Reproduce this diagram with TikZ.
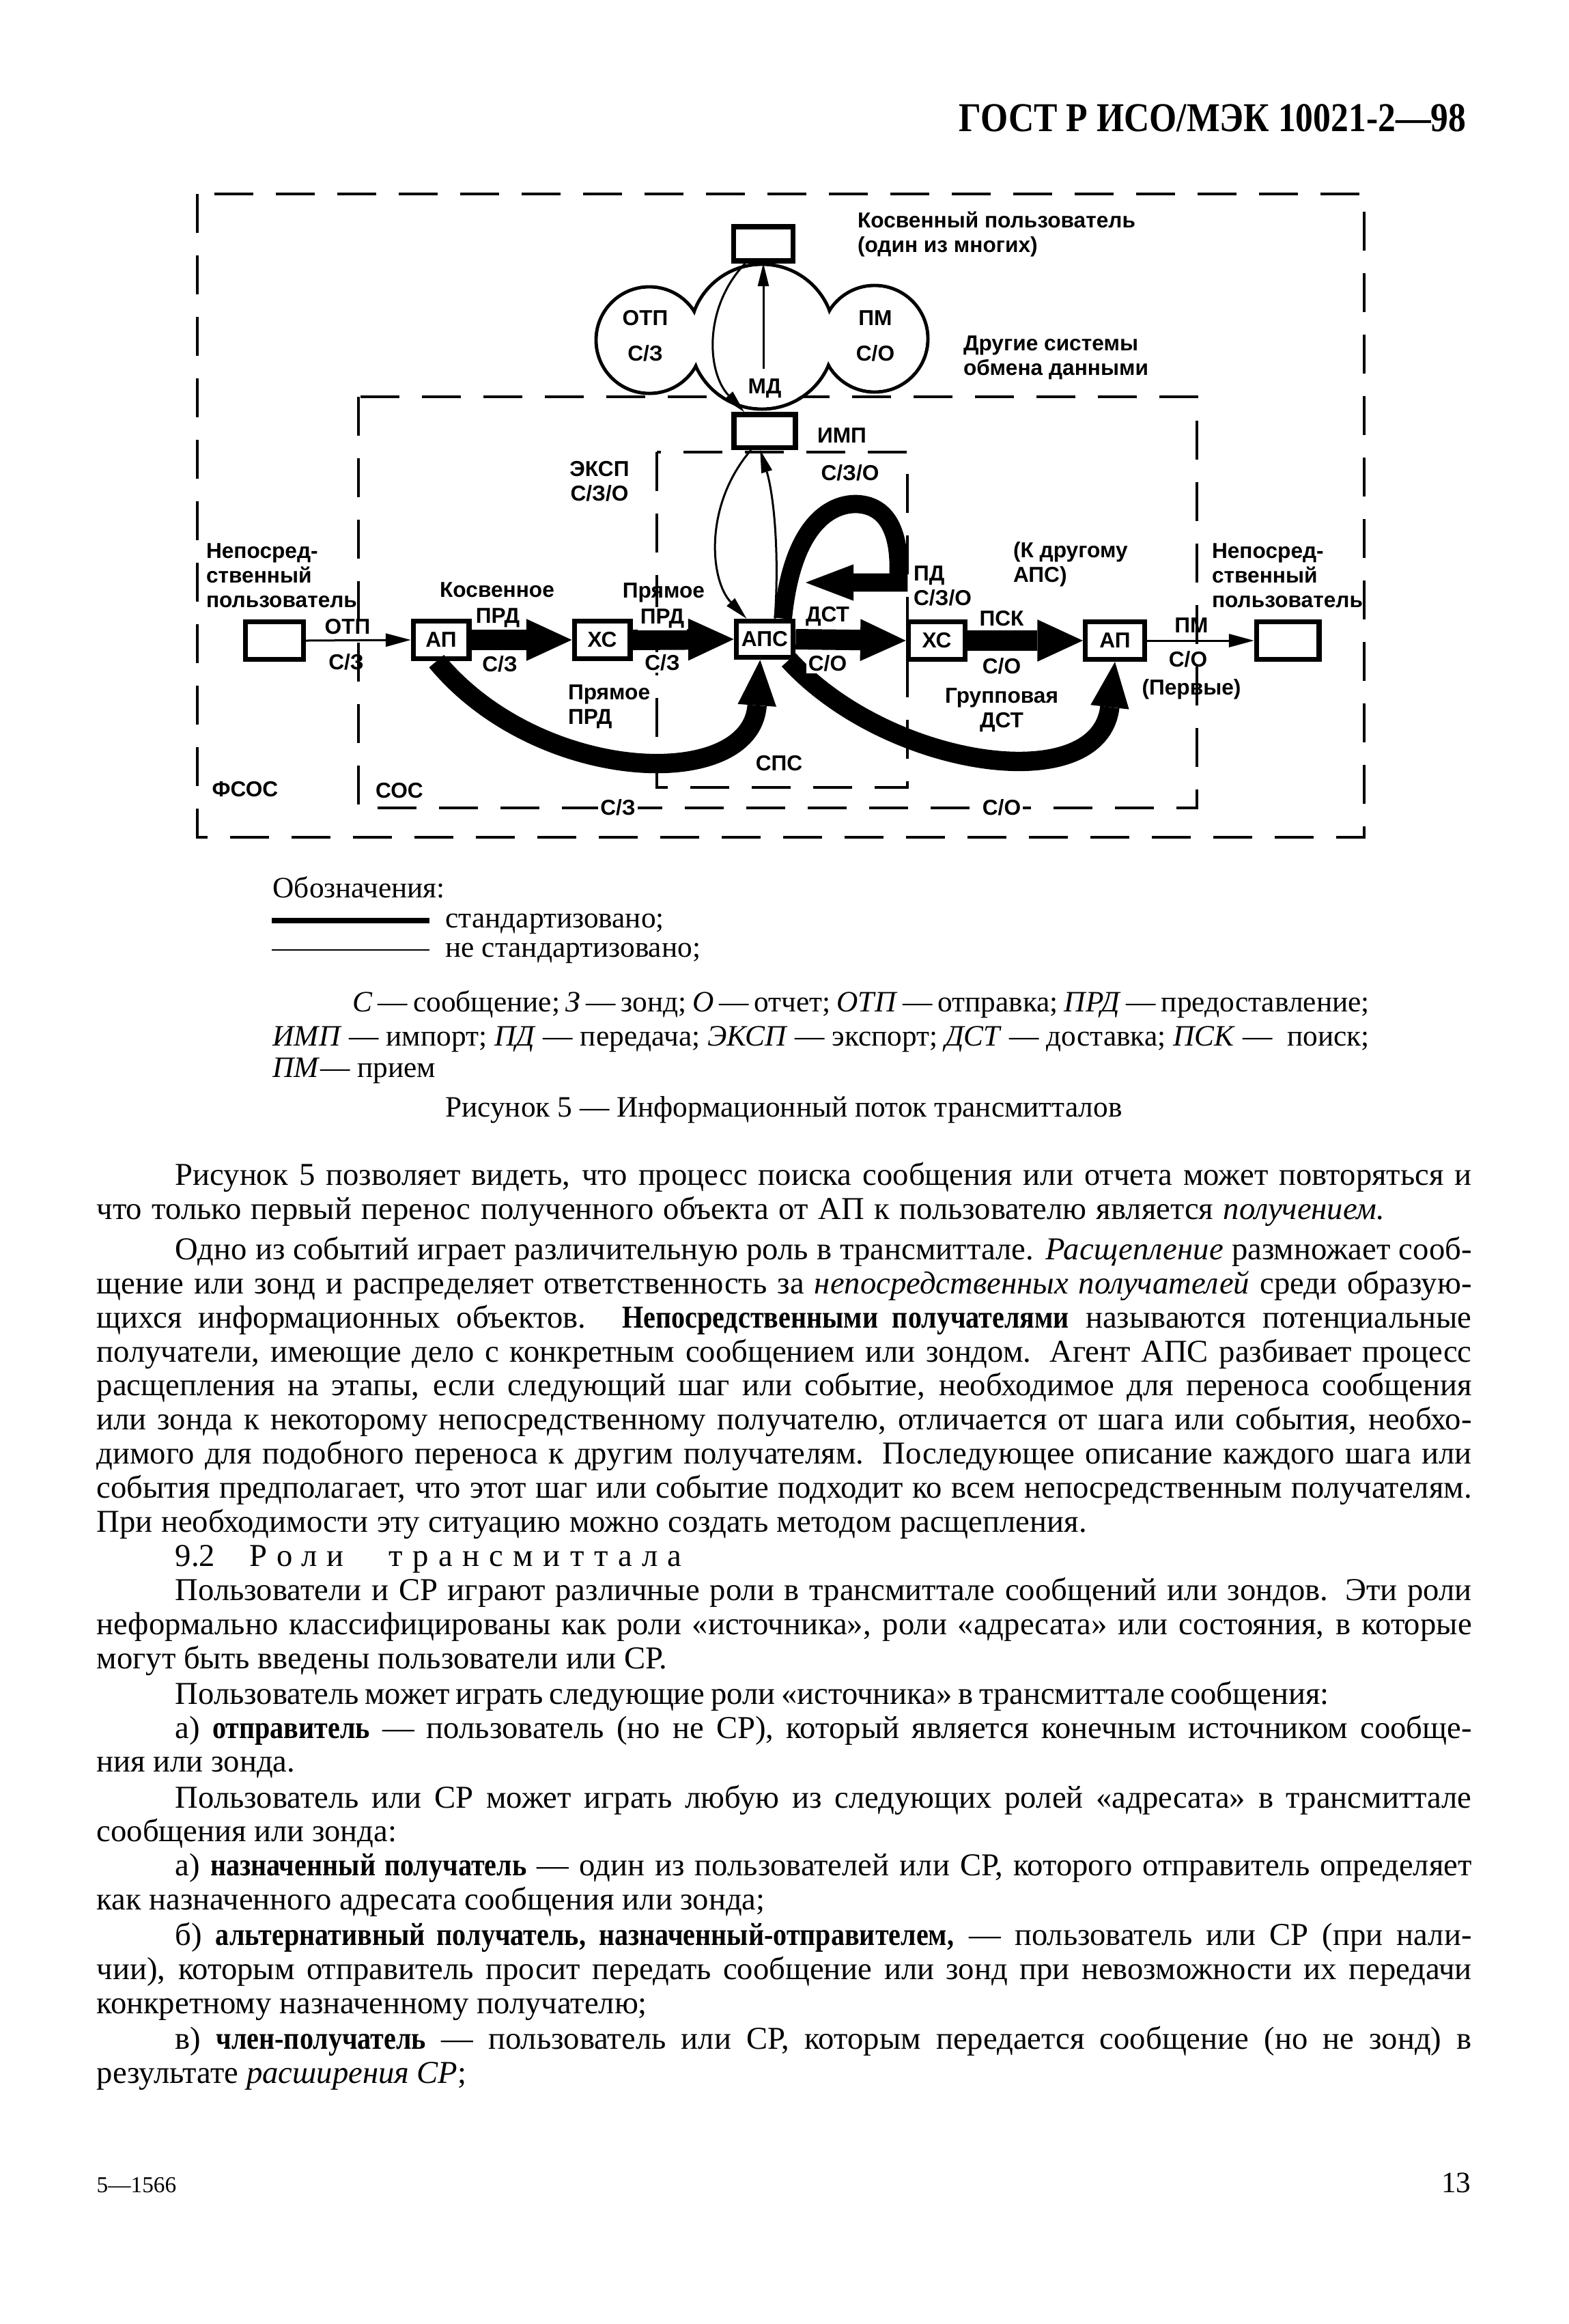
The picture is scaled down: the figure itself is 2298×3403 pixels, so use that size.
\documentclass[tikz,border=0pt]{standalone}
\usepackage{fontspec}
\setmainfont{Liberation Serif}[BoldFeatures={FakeStretch=0.86}]
\newfontfamily\labsans{Liberation Sans}
\usetikzlibrary{arrows.meta}
\newcommand\labfont{\labsans\bfseries\fontsize{9.5}{10.8}\selectfont}
\newcommand\bodyfont{\fontsize{14}{15}\selectfont}
\newcommand\legfont{\fontsize{13}{15}\selectfont}
\newcommand\BodyInd[3]{\node[btxt] (#1) at (256,#2) {\makebox[569.7pt][s]{#3}};}
\newcommand\BodyFull[3]{\node[btxt] (#1) at (141,#2) {\makebox[604.2pt][s]{#3}};}
\newcommand\BodyEnd[3]{\node[btxt] (#1) at (141,#2) {#3};}
\newcommand\BodyEndW[4]{\node[btxt] (#1) at (141,#2) {\makebox[#3][s]{#4}};}
\tikzset{
  btxt/.style={anchor=base west, inner sep=0pt, font=\bodyfont},
  ltxt/.style={anchor=base west, inner sep=0pt, font=\legfont},
  ubox/.style={draw, line width=2.2pt, fill=white, inner sep=0pt, minimum width=25pt, minimum height=16.5pt, font=\labfont},
  lab/.style={font=\labfont, inner sep=1pt},
  wlab/.style={lab, fill=white},
  frame/.style={line width=1.3pt, dash pattern=on 17pt off 10pt},
  thinarr/.style={line width=0.9pt, -{Triangle[length=11pt,width=6pt,line width=0pt]}},
  thinarrs/.style={line width=0.9pt, -{Triangle[length=10pt,width=5pt,line width=0pt]}},
  fatarr/.style={line width=9pt, -{Triangle[length=20pt,width=18.5pt,line width=0pt]}},
  fatcurve/.style={line width=8.5pt, -{Triangle[length=20pt,width=17pt,line width=0pt]}},
}
\begin{document}
\begin{tikzpicture}[x=0.3pt,y=-0.3pt]
\useasboundingbox (0,0) rectangle (2298,3403);
\fill[white] (0,0) rectangle (2298,3403);

% header
\node[anchor=base east, inner sep=0pt, font=\fontsize{18}{20}\selectfont\bfseries] (hdr) at (2148,192) {ГОСТ Р ИСО/МЭК 10021-2—98};

% frames
\draw[frame] (289,284) rectangle (1998,1226);
\draw[frame] (525,581) rectangle (1753,1183);
\draw[frame] (962,662) rectangle (1329,1153);

% cloud
\draw[line width=1.5pt] (951,498) circle[radius=23.4pt];
\draw[line width=1.5pt] (1116,493) circle[radius=31.8pt];
\draw[line width=1.5pt] (1281,496) circle[radius=23.4pt];
\fill[white] (951,498) circle[radius=22.6pt];
\fill[white] (1116,493) circle[radius=31pt];
\fill[white] (1281,496) circle[radius=22.6pt];

% boxes
\node[ubox, minimum width=26pt, minimum height=15pt] (utop) at (1118,357) {};
\node[ubox, minimum width=27pt, minimum height=14.5pt] (imp) at (1120,631) {};
\node[ubox, minimum width=25.5pt] (uL) at (402,938) {};
\node[ubox, minimum width=24.5pt] (ap1) at (646,937) {АП};
\node[ubox, minimum width=24.5pt] (xs1) at (882,937) {ХС};
\node[ubox, minimum width=25pt, minimum height=16pt] (aps) at (1120,936) {АПС};
\node[ubox, minimum width=25pt] (xs2) at (1372,938) {ХС};
\node[ubox, minimum width=26pt] (ap2) at (1633,938) {АП};
\node[ubox, minimum width=27.5pt] (uR) at (1886,938) {};

% cloud arrows
\coordinate (mdA) at (1118,540);
\draw[thinarrs] (mdA) -- (utop.south);
\draw[thinarrs] ([xshift=-8pt]utop.south) .. controls (1030,450) and (1035,545) .. ([xshift=-9pt]imp.north);

% export / import arrows
\draw[thinarrs] ([xshift=-6pt]imp.south) .. controls (1030,740) and (1040,850) .. ([xshift=-8pt]aps.north);
\draw[thinarrs] ([xshift=4.5pt]aps.north) .. controls (1142,800) and (1132,720) .. ([xshift=-2pt]imp.south);

% main row
\draw[thinarr] (uL.east) -- (ap1.west);
\draw[fatarr] (ap1.east) -- (xs1.west);
\draw[fatarr] (xs1.east) -- (aps.west);
\draw[fatarr] (aps.east) -- (xs2.west);
\draw[fatarr] (xs2.east) -- (ap2.west);
\draw[thinarr] (ap2.east) -- (uR.west);

% fat curves
\draw[fatcurve] ([xshift=-2pt]ap1.south) .. controls (790,1150) and (1100,1160) .. ([xshift=-2pt]aps.south);
\draw[fatcurve] ([xshift=-3pt]aps.south east) .. controls (1300,1125) and (1610,1170) .. (ap2.south);
\draw[line width=8pt, line join=miter, -{Triangle[length=21pt,width=16pt,line width=0pt]}]
  ([xshift=8pt]aps.north) .. controls (1160,770) and (1215,737) .. (1255,738)
  .. controls (1300,740) and (1316,780) .. (1316,830) -- (1316,853) -- (1180,853);

% labels in diagram
\node[lab, anchor=west, align=left] (ktop) at (1252,343) {Косвенный пользователь\\(один из многих)};
\node[lab, anchor=west, align=left] (other) at (1407,524) {Другие системы\\обмена данными};
\node[lab] (otpC) at (945,466) {ОТП};
\node[lab] (szC) at (945,517) {С/З};
\node[lab] (pmC) at (1282,466) {ПМ};
\node[lab] (soC) at (1282,517) {С/О};
\node[lab] (md) at (1120,569) {МД};
\node[lab] (impl) at (1233,638) {ИМП};
\node[lab] (szo1) at (1245,692) {С/З/О};
\node[lab, align=center] (exp) at (878,705) {ЭКСП\\С/З/О};
\node[lab, anchor=west, align=left] (nL) at (298,843) {Непосред-\\ственный\\пользователь};
\node[lab, anchor=west, align=left] (nR) at (1771,843) {Непосред-\\ственный\\пользователь};
\node[lab] (kos) at (728,864) {Косвенное};
\node[wlab] (prd1) at (729,905) {ПРД};
\node[wlab] (sz1) at (732,972) {С/З};
\node[lab] (prm) at (972,868) {Прямое};
\node[wlab] (prd2) at (970,906) {ПРД};
\node[wlab] (sz2) at (970,970) {С/З};
\node[wlab] (dst) at (1212,903) {ДСТ};
\node[wlab] (so1) at (1212,971) {С/О};
\node[wlab] (psk) at (1467,906) {ПСК};
\node[wlab] (so2) at (1467,975) {С/О};
\node[lab] (pm) at (1745,916) {ПМ};
\node[lab] (so3) at (1740,965) {С/О};
\node[lab] (perv) at (1745,1009) {(Первые)};
\node[lab] (otp) at (509,918) {ОТП};
\node[lab] (sz0) at (507,969) {С/З};
\node[lab, anchor=west, align=left] (prm2) at (828,1035) {Прямое\\ПРД};
\node[lab, align=center] (grp) at (1467,1040) {Групповая\\ДСТ};
\node[lab, anchor=west, align=left] (pd) at (1334,858) {ПД\\С/З/О};
\node[lab, anchor=west, align=left] (kdr) at (1480,826) {(К другому\\АПС)};
\node[lab] (spc) at (1141,1118) {СПС};
\node[lab] (fsos) at (359,1156) {ФСОС};
\node[lab] (sos) at (585,1158) {СОС};
\node[wlab] (fsz) at (905,1182) {С/З};
\node[wlab] (fso) at (1467,1182) {С/О};

% legend
\node[ltxt] (obz) at (399,1314) {Обозначения:};
\coordinate (lg1a) at (398,1348);
\coordinate (lg1b) at (629,1348);
\draw[line width=2.4pt] (lg1a) -- (lg1b);
\node[ltxt] (lg1t) at (652,1358) {стандартизовано;};
\coordinate (lg2a) at (398,1391);
\coordinate (lg2b) at (629,1391);
\draw[line width=0.6pt] (lg2a) -- (lg2b);
\node[ltxt] (lg2t) at (652,1401) {не стандартизовано;};
\node[ltxt] (ab1) at (516,1481) {\makebox[446.7pt][s]{\textit{С} — сообщение; \textit{З} — зонд; \textit{О} — отчет; \textit{ОТП} — отправка; \textit{ПРД} — предоставление;}};
\node[ltxt] (ab2) at (399,1531) {\makebox[481.8pt][s]{\textit{ИМП} — импорт; \textit{ПД} — передача; \textit{ЭКСП} — экспорт; \textit{ДСТ} — доставка; \textit{ПСК} — \ поиск;}};
\node[ltxt] (ab3) at (399,1577) {\textit{ПМ}— прием};
\node[anchor=base, inner sep=0pt, font=\legfont] (cap) at (1148,1635) {Рисунок 5 — Информационный поток трансмитталов};

% body text
\BodyInd{t1}{1735}{Рисунок 5 позволяет видеть, что процесс поиска сообщения или отчета может повторяться и}
\BodyEndW{t2}{1785}{566pt}{что только первый перенос полученного объекта от АП к пользователю является \textit{получением.}}
\BodyInd{t3}{1844}{Одно из событий играет различительную роль в трансмиттале. \textit{Расщепление} размножает сооб-}
\BodyFull{t4}{1894}{щение или зонд и распределяет ответственность за \textit{непосредственных получателей} среди образую-}
\BodyFull{t5}{1944}{щихся информационных объектов. \textbf{Непосредственными получателями} называются потенциальные}
\BodyFull{t6}{1994}{получатели, имеющие дело с конкретным сообщением или зондом. Агент АПС разбивает процесс}
\BodyFull{t7}{2043}{расщепления на этапы, если следующий шаг или событие, необходимое для переноса сообщения}
\BodyFull{t8}{2093}{или зонда к некоторому непосредственному получателю, отличается от шага или события, необхо-}
\BodyFull{t9}{2143}{димого для подобного переноса к другим получателям. Последующее описание каждого шага или}
\BodyFull{t10}{2193}{события предполагает, что этот шаг или событие подходит ко всем непосредственным получателям.}
\BodyEndW{t11}{2243}{435pt}{При необходимости эту ситуацию можно создать методом расщепления.}
\node[btxt] (h92) at (256,2293) {9.2};
\node[btxt] (h92a) at (365,2293) {\makebox[41.4pt][s]{Р о л и}};
\node[btxt] (h92b) at (569,2293) {\makebox[128.7pt][s]{т р а н с м и т т а л а}};
\BodyInd{t13}{2343}{Пользователи и СР играют различные роли в трансмиттале сообщений или зондов. Эти роли}
\BodyFull{t14}{2393}{неформально классифицированы как роли «источника», роли «адресата» или состояния, в которые}
\BodyEnd{t15}{2443}{могут быть введены пользователи или СР.}
\node[btxt] (t16) at (256,2495) {\makebox[507pt][s]{Пользователь может играть следующие роли «источника» в трансмиттале сообщения:}};
\BodyInd{t17}{2545}{а) \textbf{отправитель} — пользователь (но не СР), который является конечным источником сообще-}
\BodyEnd{t18}{2594}{ния или зонда.}
\BodyInd{t19}{2647}{Пользователь или СР может играть любую из следующих ролей «адресата» в трансмиттале}
\BodyEnd{t20}{2696}{сообщения или зонда:}
\BodyInd{t21}{2746}{а) \textbf{назначенный получатель} — один из пользователей или СР, которого отправитель определяет}
\BodyEnd{t22}{2796}{как назначенного адресата сообщения или зонда;}
\BodyInd{t23}{2848}{б) \textbf{альтернативный получатель, назначенный-отправителем,} — пользователь или СР (при нали-}
\BodyFull{t24}{2898}{чии), которым отправитель просит передать сообщение или зонд при невозможности их передачи}
\BodyEnd{t25}{2948}{конкретному назначенному получателю;}
\BodyInd{t26}{3000}{в) \textbf{член-получатель} — пользователь или СР, которым передается сообщение (но не зонд) в}
\BodyEnd{t27}{3050}{результате \textit{расширения СР};}

% footer
\node[anchor=base west, inner sep=0pt, font=\fontsize{10}{12}\selectfont] (ftl) at (141,3210) {5—1566};
\node[anchor=base east, inner sep=0pt, font=\fontsize{13}{15}\selectfont] (ftr) at (2155,3210) {13};
\end{tikzpicture}
\end{document}
